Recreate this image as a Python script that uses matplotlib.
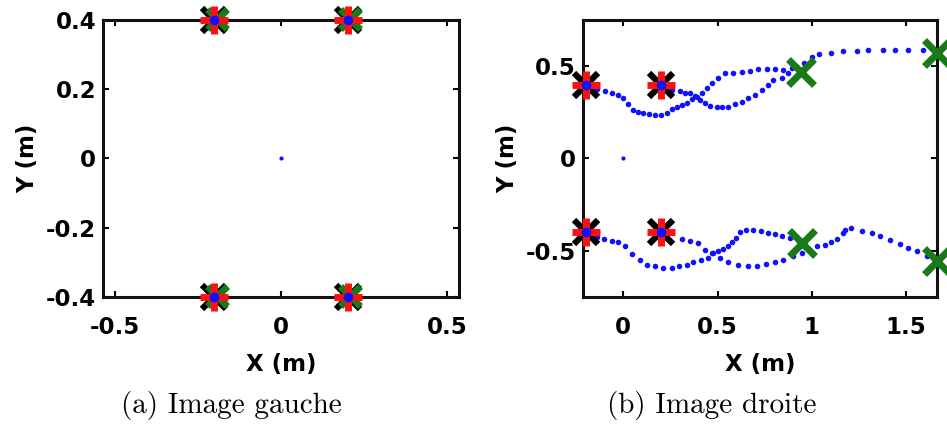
import matplotlib
matplotlib.use("Agg")
import matplotlib.pyplot as plt
from matplotlib.ticker import FuncFormatter

plt.rcParams['axes.unicode_minus'] = False

# ---------------- data ----------------
# Panel (a) : Image gauche
left_start_x = [-0.2, 0.2, -0.2, 0.2]
left_start_y = [0.4, 0.4, -0.4, -0.4]
left_goal_x = [-0.192, 0.208, -0.192, 0.208]
left_goal_y = [0.402, 0.402, -0.398, -0.398]
left_center = [0.0, 0.0]

left_xlim = [-0.535, 0.535]
left_ylim = [-0.4, 0.4]
left_xticks = [-0.5, 0, 0.5]
left_yticks = [-0.4, -0.2, 0, 0.2, 0.4]

# Panel (b) : Image droite
right_start_x = [-0.2, 0.2, -0.2, 0.2]
right_start_y = [0.4, 0.4, -0.4, -0.4]
right_goal_x = [0.942, 1.663, 0.948, 1.663]
right_goal_y = [0.467, 0.569, -0.458, -0.558]
right_center = [0.0, 0.0]

traj1_x = [-0.2, -0.141, -0.097, -0.062, -0.030, 0.0, 0.027, 0.053, 0.080, 0.106, 0.136,
           0.168, 0.200, 0.230, 0.257, 0.283, 0.310, 0.336, 0.363, 0.390, 0.416, 0.443,
           0.469, 0.501, 0.540, 0.584, 0.628, 0.673, 0.717, 0.761, 0.805, 0.849, 0.895, 0.942]
traj1_y = [0.4, 0.374, 0.367, 0.352, 0.343, 0.325, 0.295, 0.262, 0.250, 0.244, 0.239,
           0.235, 0.235, 0.248, 0.266, 0.280, 0.289, 0.302, 0.320, 0.334, 0.356, 0.379,
           0.410, 0.433, 0.461, 0.464, 0.469, 0.475, 0.482, 0.482, 0.482, 0.480, 0.490, 0.467]

traj2_x = [0.2, 0.257, 0.301, 0.327, 0.354, 0.381, 0.407, 0.434, 0.460, 0.496, 0.522,
           0.557, 0.593, 0.628, 0.664, 0.699, 0.735, 0.770, 0.796, 0.841, 0.876, 0.942,
           0.957, 1.0, 1.04, 1.10, 1.168, 1.239, 1.30, 1.377, 1.442, 1.513, 1.589, 1.663]
traj2_y = [0.4, 0.370, 0.367, 0.356, 0.352, 0.338, 0.316, 0.298, 0.284, 0.277, 0.277,
           0.280, 0.295, 0.307, 0.325, 0.343, 0.370, 0.397, 0.422, 0.436, 0.461, 0.467,
           0.515, 0.547, 0.565, 0.572, 0.581, 0.581, 0.590, 0.586, 0.590, 0.590, 0.586, 0.569]

traj3_x = [-0.2, -0.141, -0.101, -0.062, -0.027, 0.009, 0.048, 0.089, 0.124, 0.168, 0.212,
           0.257, 0.296, 0.336, 0.372, 0.412, 0.451, 0.478, 0.504, 0.531, 0.557, 0.579,
           0.597, 0.619, 0.650, 0.690, 0.731, 0.770, 0.805, 0.841, 0.885, 0.948]
traj3_y = [-0.4, -0.426, -0.437, -0.450, -0.455, -0.473, -0.516, -0.549, -0.576, -0.585, -0.594,
           -0.594, -0.585, -0.576, -0.563, -0.552, -0.540, -0.513, -0.504, -0.491, -0.477, -0.455,
           -0.431, -0.401, -0.386, -0.390, -0.396, -0.403, -0.410, -0.419, -0.431, -0.458]

traj4_x = [0.2, 0.310, 0.354, 0.395, 0.434, 0.473, 0.513, 0.557, 0.610, 0.664, 0.708,
           0.756, 0.805, 0.849, 0.899, 0.948, 1.026, 1.071, 1.101, 1.133, 1.164, 1.177,
           1.207, 1.265, 1.318, 1.363, 1.416, 1.469, 1.513, 1.557, 1.610, 1.663]
traj4_y = [-0.4, -0.437, -0.450, -0.459, -0.495, -0.513, -0.540, -0.562, -0.580, -0.585, -0.585,
           -0.572, -0.560, -0.549, -0.531, -0.513, -0.477, -0.468, -0.455, -0.437, -0.404, -0.390,
           -0.378, -0.396, -0.404, -0.419, -0.444, -0.462, -0.486, -0.504, -0.531, -0.558]

right_xlim = [-0.214, 1.663]
right_ylim = [-0.75, 0.75]
right_xticks = [0, 0.5, 1, 1.5]
right_yticks = [-0.5, 0, 0.5]

captions = ["(a) Image gauche", "(b) Image droite"]
xlabel = "X (m)"
ylabel = "Y (m)"

# ---------------- figure ----------------
fig = plt.figure(figsize=(9.47, 4.28), dpi=100)
axL = fig.add_axes([0.1088, 0.3068, 0.3759, 0.6465])
axR = fig.add_axes([0.6156, 0.3068, 0.3735, 0.6465])

fmt = FuncFormatter(lambda v, p: "%g" % v)
tick_font = dict(family="DejaVu Sans", weight="bold", size=16.5)


def markers(ax, sx, sy, gx, gy, c, goal_size):
    ax.plot(sx, sy, ls="none", marker="x", ms=17, mew=4.5, color="black",
            clip_on=False, zorder=5)
    ax.plot(gx, gy, ls="none", marker="x", ms=goal_size, mew=5, color="#1a7a1a",
            clip_on=False, zorder=6)
    ax.plot(sx, sy, ls="none", marker="+", ms=20, mew=5, color="#ff1010",
            clip_on=False, zorder=7)
    ax.plot(sx, sy, ls="none", marker="o", ms=7, mew=0, color="#1010ff",
            clip_on=False, zorder=8)
    ax.plot([c[0]], [c[1]], ls="none", marker="o", ms=3, mew=0, color="#1010ff", zorder=4)


def style(ax, xlim, ylim, xt, yt):
    ax.set_xlim(xlim)
    ax.set_ylim(ylim)
    ax.set_xticks(xt)
    ax.set_yticks(yt)
    ax.xaxis.set_major_formatter(fmt)
    ax.yaxis.set_major_formatter(fmt)
    for s in ax.spines.values():
        s.set_linewidth(2.2)
        s.set_color("#111111")
    ax.tick_params(direction="in", length=4, width=1.5, top=True, right=True)
    ax.tick_params(axis="x", pad=14)
    ax.tick_params(axis="y", pad=5)
    for lab in ax.get_xticklabels() + ax.get_yticklabels():
        lab.set_fontproperties(matplotlib.font_manager.FontProperties(**tick_font))
    ax.set_xlabel(xlabel, fontdict=tick_font, labelpad=10)
    ax.set_ylabel(ylabel, fontdict=tick_font, labelpad=5)


# Panel (a)
markers(axL, left_start_x, left_start_y, left_goal_x, left_goal_y, left_center, 15)
style(axL, left_xlim, left_ylim, left_xticks, left_yticks)

# Panel (b)
for tx, ty in [(traj1_x, traj1_y), (traj2_x, traj2_y), (traj3_x, traj3_y), (traj4_x, traj4_y)]:
    axR.plot(tx, ty, ls="none", marker="o", ms=4, mew=0, color="#1010ff", zorder=3)
markers(axR, right_start_x, right_start_y, right_goal_x, right_goal_y, right_center, 19)
style(axR, right_xlim, right_ylim, right_xticks, right_yticks)

fig.text(231 / 947, 1 - 406 / 428, captions[0], ha="center", va="center",
         family="cmr10", size=21)
fig.text(712 / 947, 1 - 406 / 428, captions[1], ha="center", va="center",
         family="cmr10", size=21)

fig.savefig("out.png", dpi=100, facecolor="white")
